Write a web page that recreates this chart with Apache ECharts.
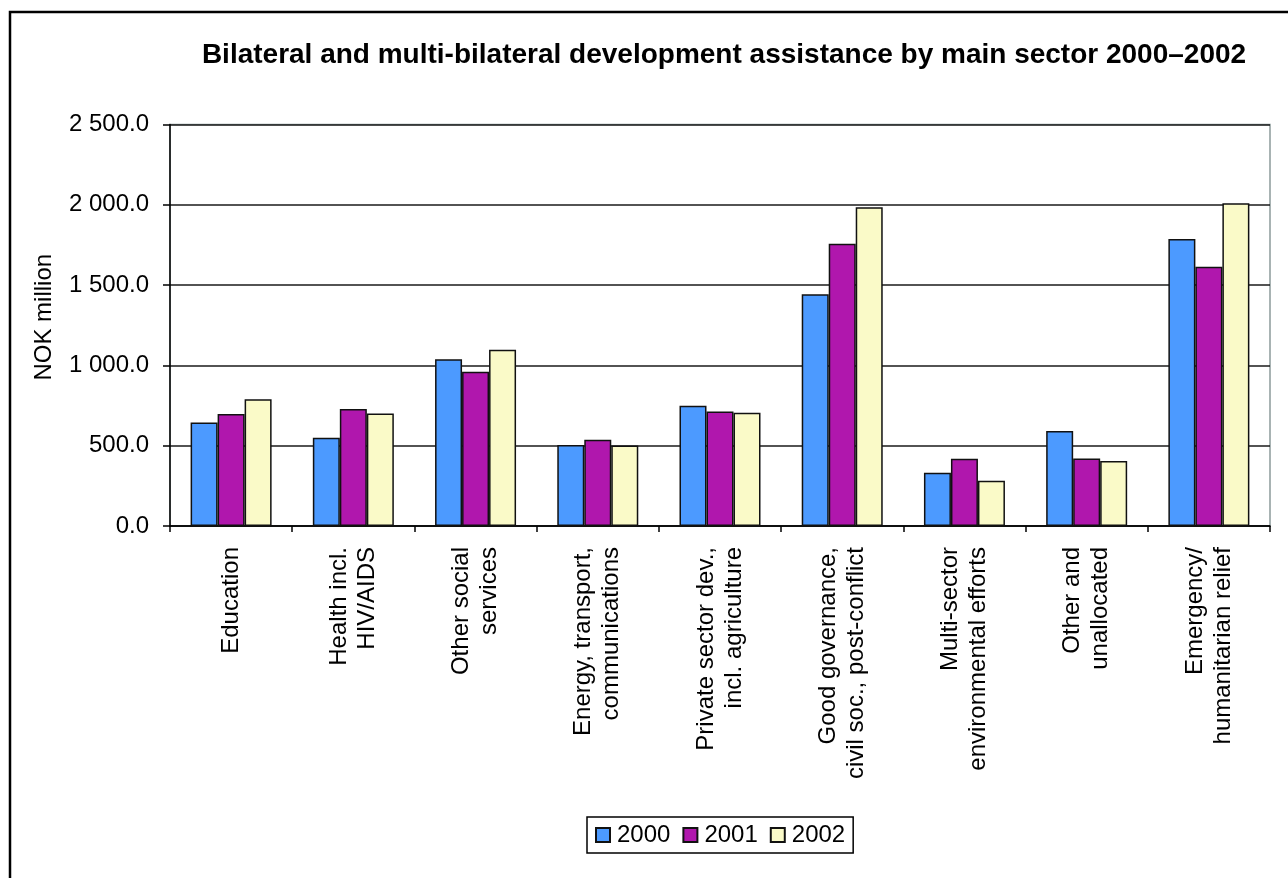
<!DOCTYPE html>
<html>
<head>
<meta charset="utf-8">
<title>Bilateral and multi-bilateral development assistance by main sector 2000–2002</title>
<script src="https://cdn.jsdelivr.net/npm/echarts@6/dist/echarts.min.js"></script>
<style>
  html, body { margin: 0; padding: 0; background: #ffffff; }
  #chart { width: 1288px; height: 878px; }
</style>
</head>
<body>
<div id="chart"></div>
<script>
// Sectors (two-line labels) and NOK million per year
const sectors = [
  'Education',
  'Health incl.\nHIV/AIDS',
  'Other social\nservices',
  'Energy, transport,\ncommunications',
  'Private sector dev.,\nincl. agriculture',
  'Good governance,\ncivil soc., post-conflict',
  'Multi-sector\nenvironmental efforts',
  'Other and\nunallocated',
  'Emergency/\nhumanitarian relief'
];
const years = ['2000', '2001', '2002'];
const values2000 = [645, 549, 1039, 504, 748, 1443, 332, 591, 1787];
const values2001 = [698, 728, 960, 537, 713, 1758, 419, 421, 1615];
const values2002 = [790, 701, 1097, 502, 705, 1984, 282, 404, 2009];
const yTicks = { min: 0, max: 2500, interval: 500 };

const FONT = '"Liberation Sans", Arial, Helvetica, sans-serif';
const colors = ['#4c9aff', '#b017ad', '#fafac8'];

// "2 500.0" style: space as thousands separator, one decimal
function fmt(v) {
  const s = v.toFixed(1);
  const [i, d] = s.split('.');
  return i.replace(/\B(?=(\d{3})+(?!\d))/g, ' ') + '.' + d;
}

const chart = echarts.init(document.getElementById('chart'), null, { renderer: 'canvas' });

const seriesData = [values2000, values2001, values2002];

chart.setOption({
  animation: false,
  backgroundColor: '#ffffff',
  color: colors,
  textStyle: { fontFamily: FONT },
  title: {
    text: 'Bilateral and multi-bilateral development assistance by main sector 2000–2002',
    left: 719,
    textAlign: 'center',
    top: 36,
    textStyle: { fontFamily: FONT, fontSize: 28, fontWeight: 'bold', color: '#000' }
  },
  graphic: [{
    type: 'rect',
    shape: { x: 10, y: 12, width: 1300, height: 900 },
    style: { fill: 'none', stroke: '#000', lineWidth: 2.5 },
    silent: true,
    z: 100
  }],
  legend: {
    data: years,
    left: 587,
    top: 817,
    icon: 'rect',
    itemWidth: 14,
    itemHeight: 14,
    itemGap: 12,
    padding: [6, 8, 6, 8],
    borderColor: '#000',
    borderWidth: 1.5,
    textStyle: { fontFamily: FONT, fontSize: 24, color: '#000', padding: [0, 0, 0, 2] }
  },
  grid: {
    left: 170,
    right: 18,
    top: 124.5,
    bottom: 352,
    show: true,
    borderColor: '#8c9a9a',
    borderWidth: 1.5
  },
  xAxis: {
    type: 'category',
    data: sectors,
    axisLine: { lineStyle: { color: '#000', width: 1.5 } },
    axisTick: { show: true, length: 6, lineStyle: { color: '#000', width: 1.5 } },
    axisLabel: {
      rotate: 90,
      margin: 21,
      interval: 0,
      fontFamily: FONT,
      fontSize: 24,
      lineHeight: 28,
      color: '#000'
    }
  },
  yAxis: {
    type: 'value',
    min: yTicks.min,
    max: yTicks.max,
    interval: yTicks.interval,
    name: 'NOK million',
    nameLocation: 'middle',
    nameGap: 114,
    nameTextStyle: { fontFamily: FONT, fontSize: 24, color: '#000', padding: [0, 0, 0, 16] },
    axisLine: { show: true, lineStyle: { color: '#000', width: 1.5 } },
    axisTick: { show: true, length: 7, lineStyle: { color: '#000', width: 1.5 } },
    axisLabel: {
      margin: 21,
      fontFamily: FONT,
      fontSize: 24,
      color: '#000',
      formatter: fmt
    },
    splitLine: { show: true, lineStyle: { color: '#1a1a1a', width: 1.5 } }
  },
  series: years.map((y, k) => ({
    name: y,
    type: 'bar',
    data: seriesData[k],
    barWidth: 27,
    barGap: '0%',
    itemStyle: { color: colors[k], borderColor: '#111', borderWidth: 1.5 }
  }))
});
</script>
</body>
</html>
